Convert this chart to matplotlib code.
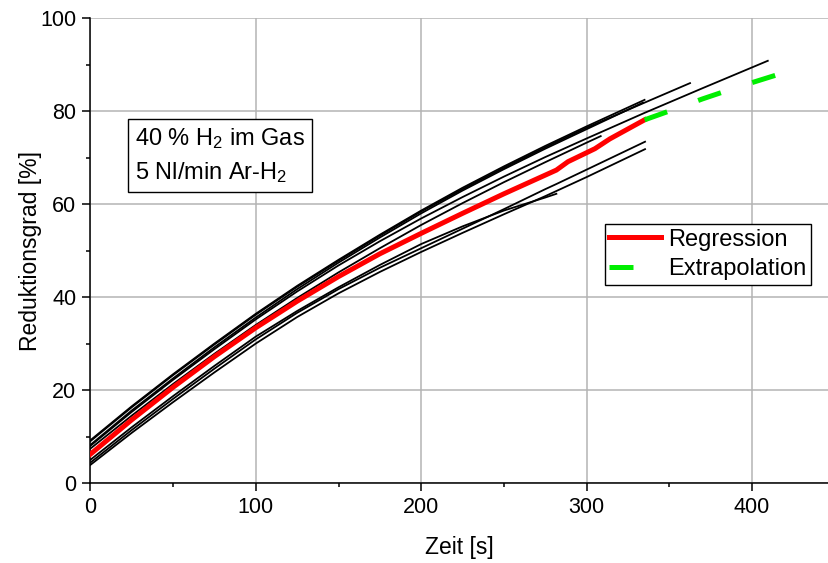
import matplotlib.pyplot as plt

plt.rcParams["font.family"] = ["Liberation Sans", "DejaVu Sans"]
plt.rcParams["mathtext.default"] = "regular"

steps = [0, 25, 50, 75, 100, 125, 150, 175, 200, 225, 250, 275, 300]

runs_x = [
    steps + [335, 370, 409.5],
    steps + [335, 362.5],
    steps + [335],
    steps + [334],
    steps + [308.5],
    steps[:-1] + [281.7],
    steps[:-1] + [281.7, 300, 335.3],
    steps[:-1] + [281.7, 300, 335.3],
]
runs_y = [
    [8.0, 15.3, 22.2, 28.8, 35.2, 41.2, 46.8, 52.0, 56.9, 61.5, 65.9, 70.1, 74.1, 79.6, 84.9, 90.8],
    [9.0, 16.3, 23.2, 29.8, 36.2, 42.2, 47.8, 53.2, 58.4, 63.2, 67.8, 72.2, 76.4, 81.8, 86.0],
    [9.2, 16.5, 23.4, 30.0, 36.4, 42.4, 48.0, 53.4, 58.6, 63.5, 68.1, 72.5, 76.7, 82.4],
    [8.2, 15.6, 22.5, 29.2, 35.6, 41.7, 47.4, 52.8, 58.0, 62.9, 67.5, 71.9, 76.1, 81.8],
    [7.4, 14.5, 21.3, 27.8, 34.0, 39.8, 45.3, 50.5, 55.5, 60.2, 64.7, 69.0, 73.2, 74.6],
    [5.0, 12.0, 18.7, 25.2, 31.5, 37.0, 42.1, 46.9, 51.4, 55.2, 58.6, 61.4, 62.2],
    [4.4, 11.4, 18.1, 24.6, 30.9, 36.6, 41.7, 46.3, 50.5, 54.7, 58.9, 63.2, 64.3, 67.4, 73.4],
    [3.9, 10.8, 17.4, 23.8, 30.0, 35.7, 40.8, 45.4, 49.7, 53.8, 57.8, 61.7, 62.8, 65.8, 71.8],
]

reg_x = [0, 25, 50, 75, 100, 125, 150, 175, 200, 225, 250, 281.7, 288.7, 305, 314, 335]
reg_y = [6.2, 13.6, 20.6, 27.2, 33.4, 39.1, 44.4, 49.3, 53.7, 58.0, 62.2, 67.3, 69.1, 71.9, 74.0, 78.1]

extra_x = [335, 350, 370, 390, 417]
extra_y = [78.1, 80.0, 82.6, 85.0, 88.0]

fig = plt.figure(figsize=(8.29, 5.63), dpi=100)
ax = fig.add_axes([0.109, 0.142, 0.89, 0.826])

for xs, ys in zip(runs_x, runs_y):
    ax.plot(xs, ys, color="black", linewidth=1.3, zorder=2)

ax.plot(reg_x, reg_y, color="#ff0000", linewidth=3.6, label="Regression", zorder=3)
ax.plot(extra_x, extra_y, color="#00ee00", linewidth=3.6, dashes=(4.8, 6.6),
        label="Extrapolation", zorder=3)

ax.set_xlim(0, 446)
ax.set_ylim(0, 100)
ax.set_xticks([0, 100, 200, 300, 400])
ax.set_xticks([50, 150, 250, 350], minor=True)
ax.set_yticks([0, 20, 40, 60, 80, 100])
ax.set_yticks([10, 30, 50, 70, 90], minor=True)
ax.grid(True, which="major", color="#b4b4b4", linewidth=1.1, zorder=0)
ax.set_axisbelow(True)

for side in ["top", "right"]:
    ax.spines[side].set_visible(False)
for side in ["left", "bottom"]:
    ax.spines[side].set_linewidth(1.1)

ax.tick_params(which="major", direction="out", length=6, width=1.1, labelsize=15.5, pad=4)
ax.tick_params(which="minor", direction="out", length=3, width=1.1)

ax.set_xlabel("Zeit [s]", fontsize=16.5, labelpad=13)
ax.set_ylabel("Reduktionsgrad [%]", fontsize=16.5, labelpad=-1)

ax.text(0.06, 0.768, "40 % H$_2$ im Gas\n5 Nl/min Ar-H$_2$", transform=ax.transAxes,
        fontsize=17, va="top", ha="left", linespacing=1.5,
        bbox=dict(boxstyle="square,pad=0.3", facecolor="white", edgecolor="black", linewidth=1))

ax.legend(loc="upper left", bbox_to_anchor=(0.697, 0.557), fontsize=17, frameon=True,
          fancybox=False, edgecolor="black", framealpha=1, handlelength=2.2,
          handletextpad=0.3, labelspacing=0.32, borderpad=0.2, borderaxespad=0)

fig.savefig("out.png", dpi=100)
